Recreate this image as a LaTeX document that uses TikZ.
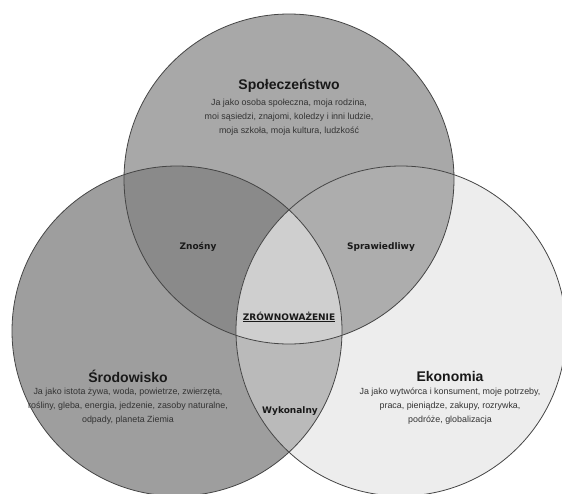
\documentclass[tikz,border=0pt]{standalone}
\usepackage{fontspec}
\setmainfont{Liberation Sans}
\newfontfamily\labelfont{DejaVu Sans}
\definecolor{topgray}{gray}{0.66}
\definecolor{leftgray}{gray}{0.62}
\definecolor{rightgray}{gray}{0.93}
\definecolor{tlgray}{gray}{0.54}
\definecolor{trgray}{gray}{0.68}
\definecolor{lrgray}{gray}{0.73}
\definecolor{midgray}{gray}{0.81}
\definecolor{edgegray}{gray}{0.27}
\definecolor{descgray}{gray}{0.2}
\tikzset{
  title/.style={font=\bfseries\fontsize{14}{16}\selectfont, text=black!90},
  desc/.style={font=\fontsize{8.9}{13.7}\selectfont, text=descgray, align=center},
  overlap/.style={font=\labelfont\bfseries\fontsize{9}{11}\selectfont, text=black!90},
}
\begin{document}
\begin{tikzpicture}[x=1pt,y=1pt,yscale=-1,xscale=1]
        \useasboundingbox (0,0) rectangle (562,493);
        \clip (0,0) rectangle (562,493);

        %Shape: Circle [fills]
        \fill [topgray] (289,179) circle (165);
        \fill [leftgray] (177,331) circle (165);
        \fill [rightgray] (401,331) circle (165);
        %Overlaps
        \begin{scope}
          \clip (289,179) circle (165);
          \fill [tlgray] (177,331) circle (165);
          \fill [trgray] (401,331) circle (165);
        \end{scope}
        \begin{scope}
          \clip (177,331) circle (165);
          \fill [lrgray] (401,331) circle (165);
        \end{scope}
        \begin{scope}
          \clip (289,179) circle (165);
          \clip (177,331) circle (165);
          \fill [midgray] (401,331) circle (165);
        \end{scope}
        %Shape: Circle [outlines]
        \draw [edgegray, line width=0.8pt] (289,179) circle (165);
        \draw [edgegray, line width=0.8pt] (177,331) circle (165);
        \draw [edgegray, line width=0.8pt] (401,331) circle (165);

        %Texts
        \node [title] (spoleczenstwo) at (289,86) {Społeczeństwo};
        \node [desc] (spoleczenstwoTxt) at (289,117) {Ja jako osoba społeczna, moja rodzina,\\moi sąsiedzi, znajomi, koledzy i inni ludzie,\\moja szkoła, moja kultura, ludzkość};
        \node [title] (srodowisko) at (128,376) {Środowisko};
        \node [desc] (srodowiskoTxt) at (128,406) {Ja jako istota żywa, woda, powietrze, zwierzęta,\\rośliny, gleba, energia, jedzenie, zasoby naturalne,\\odpady, planeta Ziemia};
        \node [title] (ekonomia) at (450,376) {Ekonomia};
        \node [desc] (ekonomiaTxt) at (450,406) {Ja jako wytwórca i konsument, moje potrzeby,\\praca, pieniądze, zakupy, rozrywka,\\podróże, globalizacja};
        \node [overlap] (znosny) at (198,247) {Znośny};
        \node [overlap] (sprawiedliwy) at (381,247) {Sprawiedliwy};
        \node [overlap] (wykonalny) at (290,411) {Wykonalny};
        \node [overlap] (zrownowazenie) at (289,317) {\underline{ZRÓWNOWAŻENIE}};
\end{tikzpicture}
\end{document}
